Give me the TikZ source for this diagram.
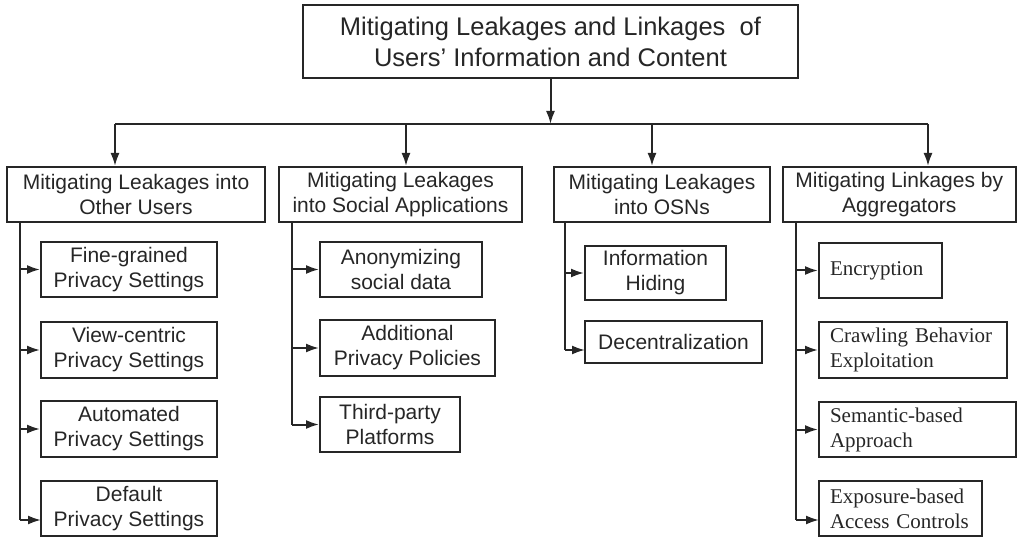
\documentclass[tikz,border=0pt]{standalone}
\usepackage{fontspec}
\setmainfont{Liberation Sans}
\newfontfamily\seriffont{Liberation Serif}
\usetikzlibrary{arrows.meta}
\definecolor{ink}{HTML}{262626}
\tikzset{
  box/.style={draw=ink, line width=2pt, inner sep=0pt, text=ink, align=center,
    font=\fontsize{21}{25}\selectfont},
  topbox/.style={box, font=\fontsize{25.5}{31}\selectfont},
  sbox/.style={draw=ink, line width=2pt, inner xsep=11pt, inner ysep=0pt, text=ink, align=left,
    font=\seriffont\fontsize{21}{25}\selectfont},
  conn/.style={draw=ink, line width=2pt},
  arr/.style={conn, -{Latex[length=13pt,width=9pt]}}
}
\begin{document}
\begin{tikzpicture}[x=1pt,y=-1pt]
\useasboundingbox (0,0) rectangle (1017,537);
% top
\node[topbox, minimum width=495pt, minimum height=73pt] (T) at (550.5,41.5)
  {Mitigating Leakages and Linkages~ of\\Users' Information and Content};
% level 2
\node[box, minimum width=258pt, minimum height=55pt] (A) at (136,194.5) {Mitigating Leakages into\\Other Users};
\node[box, minimum width=243pt, minimum height=55pt] (B) at (400.5,194.5) {Mitigating Leakages\\into Social Applications};
\node[box, minimum width=216pt, minimum height=55pt] (C) at (662,194.5) {Mitigating Leakages\\into OSNs};
\node[box, minimum width=232.5pt, minimum height=55pt] (D) at (899.25,194.5) {Mitigating Linkages by\\Aggregators};
% A children
\node[box, minimum width=176pt, minimum height=55pt] (a1) at (129,269.5) {Fine-grained\\Privacy Settings};
\node[box, minimum width=176pt, minimum height=56pt] (a2) at (129,350) {View-centric\\Privacy Settings};
\node[box, minimum width=176pt, minimum height=56pt] (a3) at (129,429) {Automated\\Privacy Settings};
\node[box, minimum width=176pt, minimum height=55pt] (a4) at (129,508.5) {Default\\Privacy Settings};
% B children
\node[box, minimum width=162pt, minimum height=55pt] (b1) at (401,269.5) {Anonymizing\\social data};
\node[box, minimum width=175pt, minimum height=56pt] (b2) at (407.5,348) {Additional\\Privacy Policies};
\node[box, minimum width=140pt, minimum height=55pt] (b3) at (390,424.5) {Third-party\\Platforms};
% C children
\node[box, minimum width=141pt, minimum height=54pt] (c1) at (655.5,273) {Information\\Hiding};
\node[box, minimum width=177pt, minimum height=42pt] (c2) at (673.5,342) {Decentralization};
% D children
\node[sbox, text width=101pt, minimum height=55pt] (d1) at (880.5,270.5) {Encryption};
\node[sbox, text width=166pt, minimum height=56pt] (d2) at (913,350) {Crawling Behavior\\Exploitation};
\node[sbox, text width=175pt, minimum height=55pt] (d3) at (917.5,429.5) {Semantic-based\\Approach};
\node[sbox, text width=141pt, minimum height=55pt] (d4) at (900.5,508.5) {Exposure-based\\Access Controls};
% bus
\coordinate (bm) at (550.5,124);
\coordinate (bA) at (115,124);
\coordinate (bB) at (406,124);
\coordinate (bC) at (652,124);
\coordinate (bD) at (928,124);
\draw[arr] (T.south) -- (bm);
\draw[conn] (bA) -- (bD);
\draw[arr] (bA) -- (bA |- A.north);
\draw[arr] (bB) -- (bB |- B.north);
\draw[arr] (bC) -- (bC |- C.north);
\draw[arr] (bD) -- (bD |- D.north);
% spines
\coordinate (sA) at (20,0);
\coordinate (sB) at (292,0);
\coordinate (sC) at (565,0);
\coordinate (sD) at (796,0);
\coordinate (a4in) at (41,520);
\coordinate (c2in) at (585,350);
\coordinate (d4in) at (819,520);
\draw[conn] (sA |- A.south) -- (sA |- a4in);
\draw[conn] (sB |- B.south) -- (sB |- b3.west);
\draw[conn] (sC |- C.south) -- (sC |- c2in);
\draw[conn] (sD |- D.south) -- (sD |- d4in);
\foreach \n in {a1,a2,a3} \draw[arr] (sA |- \n.west) -- (\n.west);
\draw[arr] (sA |- a4in) -- (a4in);
\foreach \n in {b1,b2,b3} \draw[arr] (sB |- \n.west) -- (\n.west);
\draw[arr] (sC |- c1.west) -- (c1.west);
\draw[arr] (sC |- c2in) -- (c2in);
\foreach \n in {d1,d2,d3} \draw[arr] (sD |- \n.west) -- (\n.west);
\draw[arr] (sD |- d4in) -- (d4in);
\end{tikzpicture}
\end{document}
